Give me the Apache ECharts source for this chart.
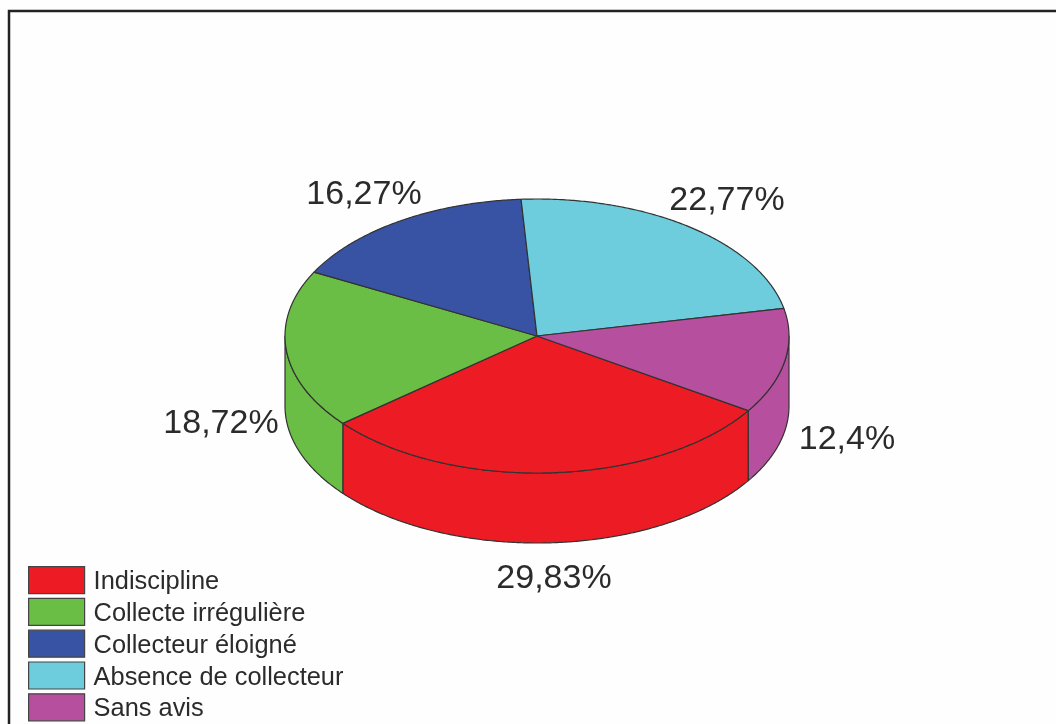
<!DOCTYPE html>
<html>
<head>
<meta charset="utf-8">
<style>html,body{margin:0;padding:0;background:#fefefe}#c{width:1056px;height:724px}</style>
<script src="https://cdn.jsdelivr.net/npm/echarts@6/dist/echarts.min.js"></script>
</head>
<body>
<div id="c"></div>
<script>
const categories = ['Indiscipline', 'Collecte irrégulière', 'Collecteur éloigné', 'Absence de collecteur', 'Sans avis'];
const shares = [29.83, 18.72, 16.27, 22.77, 12.4];
const sliceLabels = ['29,83%', '18,72%', '16,27%', '22,77%', '12,4%'];
const colors = ['#ed1c24', '#6abd45', '#3953a4', '#6dcddd', '#b74f9f'];
const labelCentres = [[554, 579], [221, 424], [364, 195], [727, 201], [847, 440]];

const CX = 537, CY = 336, RX = 252, RY = 137, DEPTH = 70, START = 33;
const total = shares.reduce((a, b) => a + b, 0);
const rad = d => d * Math.PI / 180;
const rim = (deg, dy) => [CX + RX * Math.cos(rad(deg)), CY + dy + RY * Math.sin(rad(deg))];
function arc(from, to, dy) {
  const pts = [], n = Math.max(2, Math.ceil(Math.abs(to - from) * 2));
  for (let i = 0; i <= n; i++) pts.push(rim(from + (to - from) * i / n, dy));
  return pts;
}
const stroke = { stroke: '#333333', lineWidth: 1.2, lineJoin: 'round' };

function makeRender(idx) {
  return function (params, api) {
    const before = shares.slice(0, idx).reduce((a, b) => a + b, 0);
    const a0 = START + before / total * 360;
    const a1 = a0 + api.value(0) / total * 360;
    const children = [];
    // visible wall: the part of the slice on the front half of the ellipse
    const ranges = [[0, 180], [360, 540]];
    ranges.forEach(r => {
      const f = Math.max(a0, r[0]), t = Math.min(a1, r[1]);
      if (t > f) {
        children.push({
          type: 'polygon',
          shape: { points: arc(f, t, 0).concat(arc(t, f, DEPTH)) },
          style: Object.assign({ fill: colors[idx] }, stroke)
        });
      }
    });
    children.push({
      type: 'polygon',
      shape: { points: [[CX, CY]].concat(arc(a0, a1, 0)) },
      style: Object.assign({ fill: colors[idx] }, stroke)
    });
    children.push({
      type: 'text',
      x: labelCentres[idx][0],
      y: labelCentres[idx][1],
      z2: 10,
      style: {
        text: sliceLabels[idx],
        fill: '#2b2b2b',
        font: '34px "Liberation Sans", Arial, sans-serif',
        textAlign: 'center',
        textVerticalAlign: 'middle'
      }
    });
    return { type: 'group', children };
  };
}

const chart = echarts.init(document.getElementById('c'), null, { renderer: 'canvas' });
chart.setOption({
  animation: false,
  backgroundColor: '#fefefe',
  legend: {
    orient: 'vertical',
    left: 28,
    top: 566,
    height: 200,
    padding: 0,
    itemWidth: 56,
    itemHeight: 27,
    itemGap: 3.2,
    icon: 'rect',
    selectedMode: false,
    data: categories,
    itemStyle: { borderColor: '#444444', borderWidth: 1.2 },
    formatter: name => '{t|' + name + '}',
    textStyle: {
      color: '#2b2b2b',
      rich: {
        t: {
          fontFamily: '"Liberation Sans", Arial, sans-serif',
          fontSize: 25.4,
          lineHeight: 23,
          height: 23,
          color: '#2b2b2b',
          padding: [4, 0, 0, 4]
        }
      }
    }
  },
  graphic: [{
    type: 'rect',
    silent: true,
    shape: { x: 9, y: 11, width: 1100, height: 800 },
    style: { fill: 'none', stroke: '#222222', lineWidth: 2.5 }
  }],
  series: categories.map((name, i) => ({
    type: 'custom',
    name,
    coordinateSystem: 'none',
    color: colors[i],
    itemStyle: { color: colors[i] },
    clip: false,
    silent: true,
    renderItem: makeRender(i),
    data: [[shares[i]]]
  }))
});
</script>
</body>
</html>
